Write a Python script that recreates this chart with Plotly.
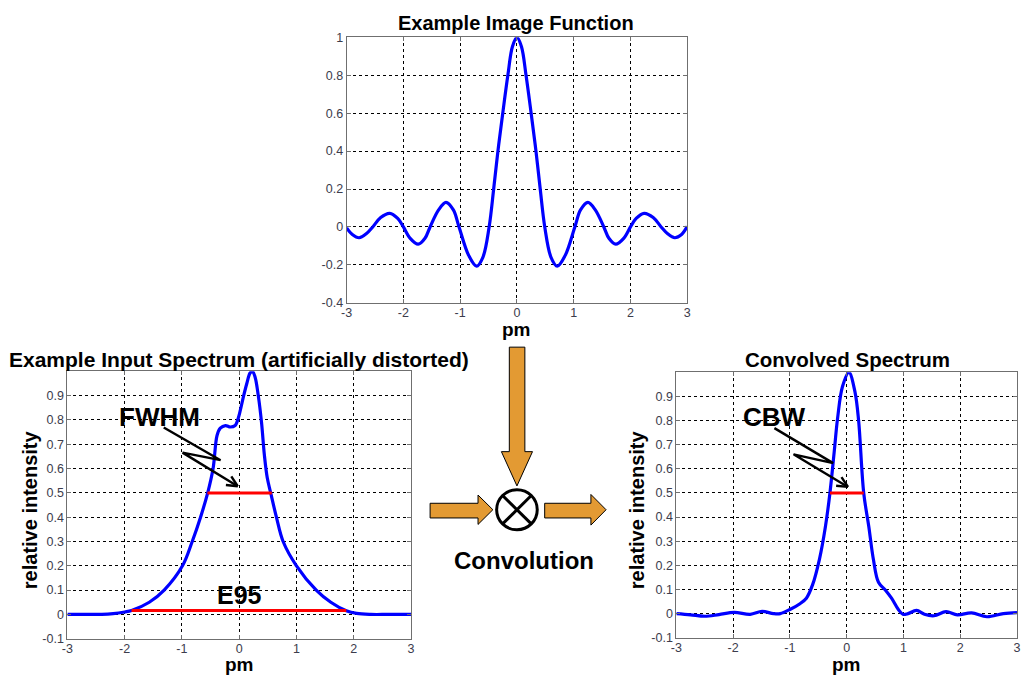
import math
import plotly.graph_objects as go

W, H = 1021, 680

# ---------------- data ----------------
image_x = [-3.0, -2.9, -2.78, -2.65, -2.54, -2.4, -2.24, -2.1, -2.0, -1.88, -1.74, -1.62, -1.53,
           -1.38, -1.25, -1.12, -1.02, -0.85, -0.71, -0.6, -0.49, -0.41, -0.335, -0.25, -0.16,
           -0.08, 0.0, 0.08, 0.16, 0.25, 0.335, 0.41, 0.49, 0.6, 0.71, 0.85, 1.02, 1.12, 1.25,
           1.38, 1.53, 1.62, 1.74, 1.88, 2.0, 2.1, 2.24, 2.4, 2.54, 2.65, 2.78, 2.9, 3.0]
image_y = [-0.005, -0.04, -0.057, -0.035, 0.0, 0.05, 0.072, 0.045, 0.0, -0.06, -0.091, -0.06, 0.0,
           0.09, 0.13, 0.09, 0.0, -0.15, -0.207, -0.16, 0.0, 0.2, 0.4, 0.6, 0.8,
           0.95, 1.0, 0.95, 0.8, 0.6, 0.4, 0.2, 0.0, -0.16, -0.207, -0.15, 0.0, 0.09, 0.13,
           0.09, 0.0, -0.06, -0.091, -0.06, 0.0, 0.045, 0.072, 0.05, 0.0, -0.035, -0.057, -0.04, 0.003]

input_x = [-3.0, -2.6, -2.4, -2.2, -2.0, -1.88, -1.57, -1.31, -0.99, -0.82, -0.675, -0.55, -0.456,
           -0.387, -0.33, -0.24, -0.156, -0.07, -0.03, 0.017, 0.075, 0.133, 0.19, 0.23, 0.277,
           0.335, 0.39, 0.44, 0.49, 0.55, 0.65, 0.767, 1.0, 1.345, 1.6, 1.87, 2.05, 2.3, 2.6, 3.0]
input_y = [0.0, 0.0, 0.0, 0.003, 0.01, 0.016, 0.05, 0.1, 0.2, 0.3, 0.4, 0.5, 0.6,
           0.736, 0.766, 0.777, 0.771, 0.777, 0.797, 0.837, 0.897, 0.95, 0.993, 1.0, 0.977,
           0.897, 0.79, 0.655, 0.562, 0.5, 0.4, 0.3, 0.2, 0.1, 0.05, 0.015, 0.004, 0.0, 0.0, 0.0]

conv_x = [-3.0, -2.75, -2.5, -2.25, -1.98, -1.7, -1.49, -1.29, -1.17, -1.0, -0.83, -0.71, -0.6,
          -0.48, -0.375, -0.295, -0.22, -0.16, -0.075, 0.04, 0.145, 0.21, 0.3, 0.39, 0.47, 0.56,
          0.68, 0.79, 0.91, 0.99, 1.08, 1.23, 1.37, 1.54, 1.75, 1.95, 2.2, 2.47, 2.76, 3.0]
conv_y = [0.0, -0.005, -0.011, -0.004, 0.005, -0.003, 0.009, 0.0, 0.0, 0.017, 0.04, 0.064, 0.12,
          0.225, 0.36, 0.5, 0.67, 0.81, 0.94, 1.0, 0.92, 0.8, 0.5, 0.36, 0.225, 0.13,
          0.098, 0.064, 0.017, -0.003, 0.0, 0.013, -0.003, -0.009, 0.008, -0.005, 0.003, -0.013, 0.0, 0.004]

fwhm_x = [-0.555, 0.57]
fwhm_y = [0.5, 0.5]
e95_x = [-1.88, 1.87]
e95_y = [0.016, 0.016]
cbw_x = [-0.295, 0.3]
cbw_y = [0.5, 0.5]

x_ticks = [-3, -2, -1, 0, 1, 2, 3]
x_ticklabels = ["-3", "-2", "-1", "0", "1", "2", "3"]
top_yticks = [-0.4, -0.2, 0, 0.2, 0.4, 0.6, 0.8, 1.0]
top_yticklabels = ["-0.4", "-0.2", "0", "0.2", "0.4", "0.6", "0.8", "1"]
spec_yticks = [-0.1, 0, 0.1, 0.2, 0.3, 0.4, 0.5, 0.6, 0.7, 0.8, 0.9]
spec_yticklabels = ["-0.1", "0", "0.1", "0.2", "0.3", "0.4", "0.5", "0.6", "0.7", "0.8", "0.9"]

# ---------------- figure ----------------
BLUE = "#0000FF"
RED = "#FF0000"
ORANGE = "#E39A33"
FONT = "Liberation Sans, Arial, Helvetica, sans-serif"

fig = go.Figure()
line_blue = dict(color=BLUE, width=3.2, shape="spline", smoothing=1.0)
fig.add_trace(go.Scatter(x=image_x, y=image_y, mode="lines", line=line_blue, xaxis="x", yaxis="y"))
fig.add_trace(go.Scatter(x=input_x, y=input_y, mode="lines", line=line_blue, xaxis="x2", yaxis="y2"))
fig.add_trace(go.Scatter(x=fwhm_x, y=fwhm_y, mode="lines", line=dict(color=RED, width=3), xaxis="x2", yaxis="y2"))
fig.add_trace(go.Scatter(x=e95_x, y=e95_y, mode="lines", line=dict(color=RED, width=3), xaxis="x2", yaxis="y2"))
fig.add_trace(go.Scatter(x=conv_x, y=conv_y, mode="lines", line=line_blue, xaxis="x3", yaxis="y3"))
fig.add_trace(go.Scatter(x=cbw_x, y=cbw_y, mode="lines", line=dict(color=RED, width=3), xaxis="x3", yaxis="y3"))


def px(x):
    return x / W


def py(y):
    return 1 - y / H


def axis_common():
    return dict(showline=True, linecolor="#6f6f6f", linewidth=1, mirror="ticks",
                ticks="inside", ticklen=4, tickcolor="#6f6f6f",
                showgrid=True, gridcolor="black", gridwidth=1, griddash="dot",
                zeroline=False, tickfont=dict(family=FONT, size=12.5, color="#3c3c4c"),
                fixedrange=True)


xa = axis_common()
xa.update(range=[-3, 3], tickvals=x_ticks, ticktext=x_ticklabels, ticklabelstandoff=-2)
ya_top = axis_common()
ya_top.update(range=[-0.4, 1.0], tickvals=top_yticks, ticktext=top_yticklabels)
ya_spec = axis_common()
ya_spec.update(range=[-0.1, 1.0], tickvals=spec_yticks, ticktext=spec_yticklabels)

fig.update_layout(
    width=W, height=H, margin=dict(l=0, r=0, t=0, b=0),
    paper_bgcolor="white", plot_bgcolor="white", showlegend=False,
    xaxis=dict(xa, domain=[px(344), px(688)], anchor="y"),
    yaxis=dict(ya_top, domain=[py(302), py(31)], anchor="x"),
    xaxis2=dict(xa, domain=[px(62), px(409)], anchor="y2"),
    yaxis2=dict(ya_spec, domain=[py(645), py(372)], anchor="x2"),
    xaxis3=dict(xa, domain=[px(677), px(1021)], anchor="y3"),
    yaxis3=dict(ya_spec, domain=[py(644), py(373)], anchor="x3"),
)

# ---------------- texts ----------------
def text(x, y, s, size, angle=0):
    fig.add_annotation(x=px(x), y=py(y), xref="paper", yref="paper", text="<b>%s</b>" % s,
                       showarrow=False, xanchor="center", yanchor="middle", textangle=angle,
                       borderpad=0,
                       font=dict(family=FONT, size=size, color="black"))


text(515, 16, "Example Image Function", 20)
text(235, 360, "Example Input Spectrum (artificially distorted)", 21)
text(850, 360, "Convolved Spectrum", 20.5)
text(516, 329, "pm", 19)
text(236, 671.5, "pm", 19)
text(849, 671, "pm", 19)
text(25, 513, "relative intensity", 20, -90)
text(638, 513, "relative intensity", 20, -90)
text(155, 419, "FWHM", 26)
text(236, 600, "E95", 25)
text(776, 419, "CBW", 26)
text(523, 565, "Convolution", 24)

# ---------------- zigzag pointer arrows ----------------
def pointer(p0, p1, p2, tip):
    pts = [p0, p1, p2, tip]
    path = "M " + " L ".join("%f,%f" % (px(a), py(b)) for a, b in pts)
    fig.add_shape(type="path", path=path, xref="paper", yref="paper",
                  line=dict(color="black", width=2.4))
    dx, dy = tip[0] - p2[0], tip[1] - p2[1]
    L = math.hypot(dx, dy)
    ux, uy = -dx / L, -dy / L
    for ang in (0.45, -0.45):
        c, s = math.cos(ang), math.sin(ang)
        bx, by = ux * c - uy * s, ux * s + uy * c
        end = (tip[0] + 12 * bx, tip[1] + 12 * by)
        fig.add_shape(type="line", xref="paper", yref="paper",
                      x0=px(tip[0]), y0=py(tip[1]), x1=px(end[0]), y1=py(end[1]),
                      line=dict(color="black", width=2.4))


pointer((159.3, 429.3), (216.7, 462.7), (178.3, 455.0), (234.0, 489.3))
pointer((776.0, 430.0), (835.3, 465.7), (795.3, 456.7), (850.3, 490.0))

# ---------------- orange block arrows + convolution symbol ----------------
def polygon(pts):
    path = "M " + " L ".join("%f,%f" % (px(a), py(b)) for a, b in pts) + " Z"
    fig.add_shape(type="path", path=path, xref="paper", yref="paper",
                  fillcolor=ORANGE, line=dict(color="black", width=1))


polygon([(508.3, 347.3), (524.0, 347.3), (524.0, 454.0), (531.7, 454.0), (516.0, 489.0),
         (500.3, 454.0), (508.3, 454.0)])
polygon([(428.3, 506.7), (476.7, 506.7), (476.7, 498.3), (491.7, 513.3), (476.7, 528.3),
         (476.7, 521.7), (428.3, 521.7)])
polygon([(544.0, 506.7), (590.7, 506.7), (590.7, 497.7), (606.0, 513.3), (590.7, 529.0),
         (590.7, 521.7), (544.0, 521.7)])

cx, cy, r = 516.0, 513.3, 20.5
fig.add_shape(type="circle", xref="paper", yref="paper",
              x0=px(cx - r), x1=px(cx + r), y0=py(cy + r), y1=py(cy - r),
              fillcolor="white", line=dict(color="black", width=3))
d = r * math.cos(math.pi / 4)
for sgn in (1, -1):
    fig.add_shape(type="line", xref="paper", yref="paper",
                  x0=px(cx - d), y0=py(cy - sgn * d), x1=px(cx + d), y1=py(cy + sgn * d),
                  line=dict(color="black", width=3))

fig.write_html("out.html")
